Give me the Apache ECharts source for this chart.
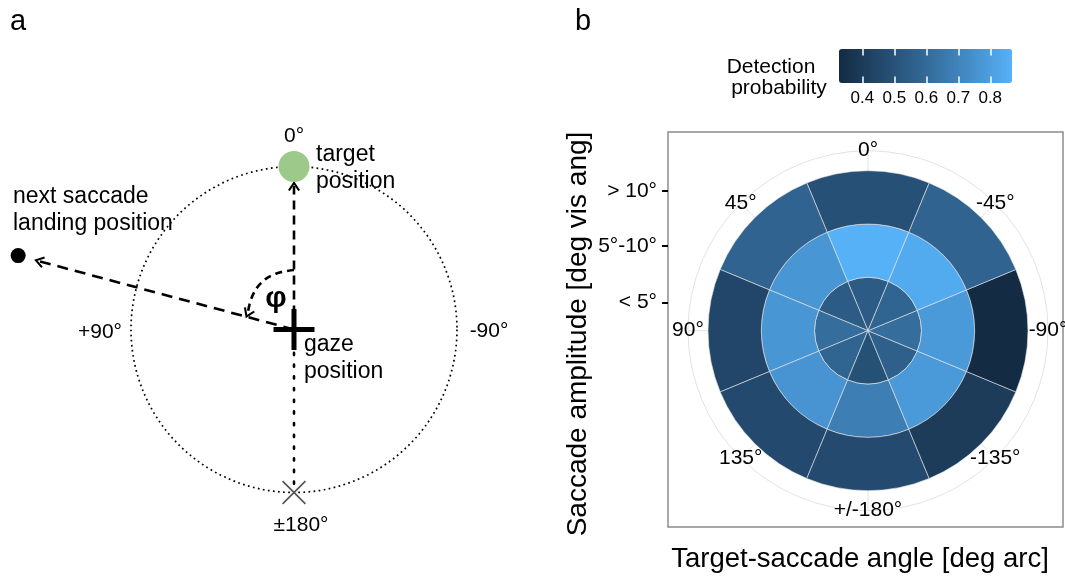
<!DOCTYPE html>
<html><head><meta charset="utf-8">
<script src="https://cdn.jsdelivr.net/npm/echarts@6/dist/echarts.min.js"></script>
<style>html,body{margin:0;padding:0;background:#fff}#c{width:1065px;height:578px}</style>
</head><body><div id="c"></div>
<script>
// ---------- Panel b data ----------
const angleCats = ['0°', '45°', '90°', '135°', '+/-180°', '-135°', '-90°', '-45°'];
const ampLabels = ['< 5°', '5°-10°', '> 10°'];
const ampTickPos = [0.51, 1.575, 2.61];          // radius-axis position of amplitude labels (ring units)
const innerRing  = [0.54, 0.54, 0.61, 0.575, 0.49, 0.555, 0.61, 0.575];
const middleRing = [0.868, 0.768, 0.768, 0.763, 0.677, 0.78, 0.78, 0.845];
const outerRing  = [0.486, 0.569, 0.445, 0.461, 0.467, 0.40, 0.33, 0.569];
const legendTicks = [0.4, 0.5, 0.6, 0.7, 0.8];
const probRange = [0.327, 0.868];
const ringMax = 3.375;

// ---------- Panel a schematic data: [radius (circle = 1), angle deg] ----------
const gazePos = [0, 0];
const targetPos = [1, 0];
const landingPos = [1.752, 75];
const oppositePos = [1, 180];
const targetArrow = [[0, 0], [0.88, 0]];
const saccadeArrow = [[0, 0], [1.62, 75]];
const phiArc = [[0.365, 0], [0.36, 18], [0.35, 35], [0.325, 53], [0.30, 71]];
const downLine = [[0, 0], [1, 180]];
const schemeMaxR = 1.8;

const FONT = '"Liberation Sans", Arial, Helvetica, sans-serif';
const chevron = 'path://M0,9L6,0L12,9L10.2,10L6,3.6L1.8,10Z';
const plus = 'path://M0,18L41,18L41,23L0,23Z M18,0L23,0L23,41L18,41Z';
const xmark = 'path://M0,1.2L1.2,0L24,22.8L22.8,24Z M22.8,0L24,1.2L1.2,24L0,22.8Z';

function arrowLine(pts, rot, dash) {
  return {
    type: 'line', coordinateSystem: 'polar', polarIndex: 0, clip: false, silent: true,
    lineStyle: {color: '#000', width: 2.6, type: dash},
    itemStyle: {color: '#000', opacity: 1},
    data: pts.map((p, i) => i === pts.length - 1
      ? {value: p, symbol: chevron, symbolSize: [12, 10], symbolRotate: rot}
      : {value: p, symbol: 'none'})
  };
}
function dot(pos, symbol, size, color) {
  return {type: 'scatter', coordinateSystem: 'polar', polarIndex: 0, clip: false, silent: true,
    symbol: symbol, symbolSize: size, itemStyle: {color: color, opacity: 1}, data: [pos], z: 6};
}
function txt(text, x, y, size, extra) {
  return {type: 'text', x: x, y: y, silent: true,
    style: Object.assign({text: text, fill: '#000', fontSize: size, fontFamily: FONT,
      align: 'center', verticalAlign: 'middle'}, extra || {})};
}
const hiddenAxis = {axisLine: {show: false}, axisTick: {show: false}, axisLabel: {show: false}, splitLine: {show: false}};

const rings = [innerRing, middleRing, outerRing];
const barSeries = rings.map((vals) => ({
  type: 'bar', coordinateSystem: 'polar', polarIndex: 1, stack: 'amp',
  barCategoryGap: '0%', silent: true,
  encode: {radius: 0, angle: 1},
  itemStyle: {borderColor: '#e6e6e6', borderWidth: 0.6, opacity: 1},
  data: vals.map((p, i) => [1, angleCats[i], p])
}));

const chart = echarts.init(document.getElementById('c'), null, {renderer: 'canvas'});
chart.setOption({
  animation: false,
  backgroundColor: '#fff',
  textStyle: {fontFamily: FONT},
  polar: [
    {center: [294, 329.5], radius: 163 * schemeMaxR},
    {center: [868, 330.7], radius: 180},
    {center: [868, 330.7], radius: 180},
    {center: [294, 329.5], radius: 163}
  ],
  angleAxis: [
    Object.assign({polarIndex: 0, type: 'value', min: -180, max: 180, startAngle: 270, clockwise: false}, hiddenAxis),
    Object.assign({}, hiddenAxis, {polarIndex: 1, type: 'category', data: angleCats, startAngle: 67.5, clockwise: false, boundaryGap: true,
      axisLine: {show: true, lineStyle: {color: '#e3e3e3', width: 1}}}),
    Object.assign({}, hiddenAxis, {polarIndex: 2, type: 'value', min: 0, max: 360, interval: 45, startAngle: 90,
      splitLine: {show: true, lineStyle: {color: '#e3e3e3', width: 1}}}),
    Object.assign({}, hiddenAxis, {polarIndex: 3, type: 'value', min: -180, max: 180, startAngle: 270, clockwise: false,
      axisLine: {show: true, lineStyle: {color: '#000', width: 1.7, type: [1.7, 3.4]}}})
  ],
  radiusAxis: [
    Object.assign({polarIndex: 0, type: 'value', min: 0, max: schemeMaxR}, hiddenAxis),
    Object.assign({polarIndex: 1, type: 'value', min: 0, max: ringMax}, hiddenAxis),
    Object.assign({polarIndex: 2, type: 'value', min: 0, max: 1}, hiddenAxis),
    Object.assign({polarIndex: 3, type: 'value', min: 0, max: 1}, hiddenAxis)
  ],
  grid: [
    {left: 668, right: 2, top: 132, bottom: 49, show: true, borderColor: '#8c8c8c', borderWidth: 1.5,
      backgroundColor: 'transparent', z: 0},
    {left: 839, top: 49, width: 173, height: 34, show: false, z: 5}
  ],
  xAxis: [
    Object.assign({}, hiddenAxis, {gridIndex: 0, type: 'value', min: 0, max: 1,
      name: 'Target-saccade angle [deg arc]', nameLocation: 'middle', nameGap: 18,
      nameTextStyle: {fontSize: 27.5, color: '#000', fontFamily: FONT, padding: [0, 11, 0, 0]}}),
    {gridIndex: 1, type: 'value', min: probRange[0], max: probRange[1], position: 'bottom', z: 10,
      axisLine: {show: false},
      axisTick: {show: true, inside: true, length: 6.5, customValues: legendTicks, lineStyle: {color: '#fff', width: 1.5}},
      axisLabel: {show: true, customValues: legendTicks, margin: 7, fontSize: 17, color: '#000', fontFamily: FONT},
      splitLine: {show: false}},
    {gridIndex: 1, type: 'value', min: probRange[0], max: probRange[1], position: 'top', z: 10,
      axisLine: {show: false},
      axisTick: {show: true, inside: true, length: 6.5, customValues: legendTicks, lineStyle: {color: '#fff', width: 1.5}},
      axisLabel: {show: false}, splitLine: {show: false}}
  ],
  yAxis: [
    {gridIndex: 0, type: 'value', min: -3.72, max: 3.726, position: 'left',
      axisLine: {show: false},
      axisTick: {show: true, length: 6, customValues: ampTickPos, lineStyle: {color: '#000', width: 2}},
      axisLabel: {show: true, customValues: ampTickPos, margin: 11, fontSize: 21, color: '#000', fontFamily: FONT,
        formatter: function (v) {
          let best = 0;
          ampTickPos.forEach((p, i) => { if (Math.abs(p - v) < Math.abs(ampTickPos[best] - v)) best = i; });
          return ampLabels[best];
        }},
      splitLine: {show: false},
      name: 'Saccade amplitude [deg vis ang]', nameLocation: 'middle', nameGap: 76, nameRotate: 90,
      nameTextStyle: {fontSize: 28, color: '#000', fontFamily: FONT, padding: [0, 9, 0, 0]}},
    {gridIndex: 1, type: 'value', show: false}
  ],
  visualMap: [{
    type: 'continuous', orient: 'horizontal', left: 839, top: 49, padding: 0,
    itemWidth: 34, itemHeight: 173, min: probRange[0], max: probRange[1],
    calculable: false, seriesIndex: [0, 1, 2], dimension: 2, hoverLink: false,
    inRange: {color: ['#132B43', '#234A6E', '#336A98', '#448CC7', '#56B1F7']}
  }],
  graphic: [
    txt('a', 18, 22, 29),
    txt('b', 583, 22, 29),
    txt('0°', 294, 136, 21),
    txt('target\nposition', 316, 168.5, 23, {align: 'left', lineHeight: 27}),
    txt('next saccade\nlanding position', 13, 210.5, 23, {align: 'left', lineHeight: 27}),
    txt('+90°', 100, 332, 21),
    txt('-90°', 489, 331.5, 21),
    txt('gaze\nposition', 304, 358.5, 23, {align: 'left', lineHeight: 27}),
    txt('±180°', 301, 525.5, 21),
    txt('φ', 276, 299, 30, {fontWeight: 'bold'}),
    txt('Detection', 771, 67, 21),
    txt('probability', 779, 88, 21)
  ],
  series: barSeries.concat([
    {type: 'scatter', coordinateSystem: 'polar', polarIndex: 1, silent: true, symbolSize: 0.1,
      itemStyle: {color: 'transparent', opacity: 1}, z: 5,
      label: {show: true, position: 'inside', fontSize: 21, color: '#000', fontFamily: FONT,
        formatter: p => p.value[1]},
      data: angleCats.map(c => [ringMax, c])},
    {type: 'line', coordinateSystem: 'polar', polarIndex: 0, clip: false, silent: true, symbol: 'none',
      lineStyle: {color: '#000', width: 2.6, type: [2.2, 9.5], cap: 'round'}, data: downLine},
    arrowLine(targetArrow, 0, [9, 6]),
    arrowLine(saccadeArrow, 75, [11, 7]),
    Object.assign(arrowLine(phiArc, 156, [7, 5]), {smooth: 0.4}),
    dot(targetPos, 'circle', 31, '#9dc98b'),
    dot(landingPos, 'circle', 15, '#000'),
    dot(gazePos, plus, [41, 41], '#000'),
    dot(oppositePos, xmark, [24, 24], '#555')
  ])
});
</script>
</body></html>
